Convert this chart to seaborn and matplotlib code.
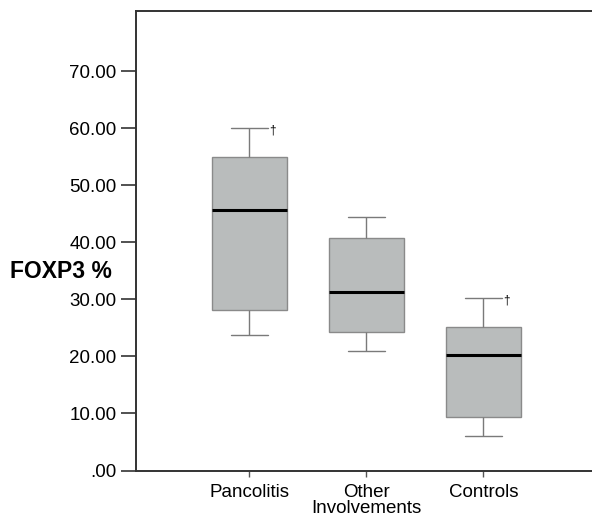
import numpy as np
import pandas as pd
import matplotlib
matplotlib.use("Agg")
import matplotlib.pyplot as plt
import seaborn as sns

# five-number summaries (min, Q1, median, Q3, max)
groups = ["Pancolitis", "Other\nInvolvements", "Controls"]
pancolitis = [23.7, 28.2, 45.7, 55.0, 60.0]
other = [20.9, 24.3, 31.3, 40.8, 44.4]
controls = [6.1, 9.3, 20.3, 25.1, 30.2]
dagger_groups = ["Pancolitis", "Controls"]
yticks = [0, 10, 20, 30, 40, 50, 60, 70]
ytick_labels = [".00", "10.00", "20.00", "30.00", "40.00", "50.00", "60.00", "70.00"]

df = pd.DataFrame({
    "group": [groups[0]] * 5 + [groups[1]] * 5 + [groups[2]] * 5,
    "value": pancolitis + other + controls,
})

sns.set_style("white")
plt.rcParams["font.family"] = ["Liberation Sans", "DejaVu Sans"]
plt.rcParams["text.color"] = "black"
plt.rcParams["xtick.color"] = "black"
plt.rcParams["ytick.color"] = "black"

fig = plt.figure(figsize=(5.92, 5.18), dpi=100)
ax = fig.add_axes([136 / 592, 1 - 470.5 / 518, (592 - 136) / 592, (470.5 - 11) / 518])

sns.boxplot(
    data=df, x="group", y="value", order=groups, ax=ax,
    whis=np.inf, width=0.64, color="#b9bcbc", saturation=1,
    linecolor="#7a7a7a", linewidth=1.0,
    medianprops=dict(color="black", linewidth=2.2),
    capprops=dict(color="#7a7a7a", linewidth=1.0),
    whiskerprops=dict(color="#7a7a7a", linewidth=1.0),
    boxprops=dict(edgecolor="#8a8a8a", linewidth=1.0),
)

# daggers next to upper whiskers
vals = {groups[0]: pancolitis, groups[1]: other, groups[2]: controls}
for g in dagger_groups:
    i = groups.index(g)
    ax.text(i + 0.2, vals[g][4] - 0.4, "\u2020", ha="center", va="center",
            fontsize=8.5, color="black")

ax.set_xlim(-0.97, 2.93)
ax.set_ylim(0, 80.6)
ax.set_yticks(yticks)
ax.set_yticklabels(ytick_labels)
ax.set_xlabel("")
ax.set_ylabel("")
ax.tick_params(axis="y", direction="out", length=11, width=1.2, color="#333333",
               labelsize=13.5, labelcolor="black", pad=3, left=True)
ax.tick_params(axis="x", direction="out", length=4, width=1.0, color="#555555",
               labelsize=13.5, labelcolor="black", pad=6, bottom=True)
for lab in ax.get_xticklabels():
    lab.set_linespacing(0.88)

for s in ["left", "bottom", "top"]:
    ax.spines[s].set_visible(True)
    ax.spines[s].set_color("#333333")
    ax.spines[s].set_linewidth(1.4)
ax.spines["right"].set_visible(False)

fig.text(10 / 592, 1 - 271 / 518, "FOXP3 %", fontsize=16.5, fontweight="bold",
         ha="left", va="center", color="black")

fig.savefig("out.png", dpi=100)
